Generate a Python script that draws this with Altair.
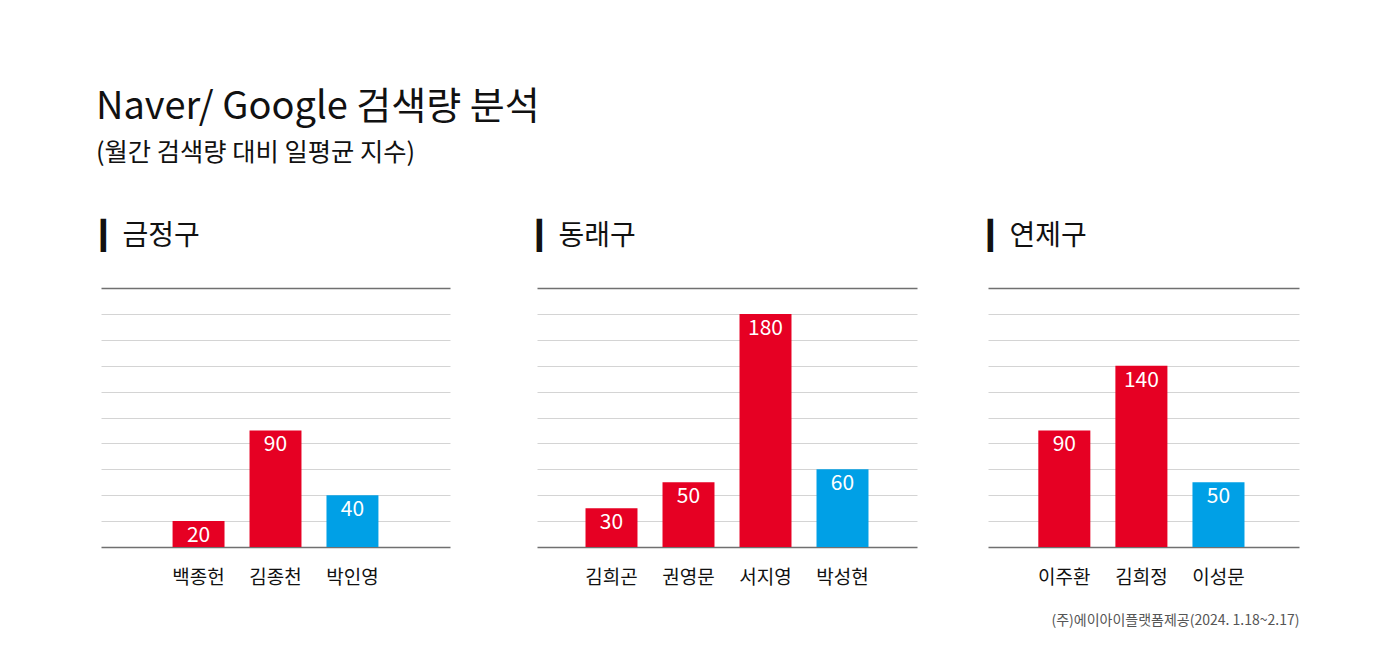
import altair as alt
import pandas as pd

FONT = "Noto Sans CJK KR"

# data
districts = ["금정구", "동래구", "연제구"]
candidates = [
    ["백종헌", "김종천", "박인영"],
    ["김희곤", "권영문", "서지영", "박성현"],
    ["이주환", "김희정", "이성문"],
]
values = [
    [20, 90, 40],
    [30, 50, 180, 60],
    [90, 140, 50],
]
parties = [
    ["국민의힘", "국민의힘", "더불어민주당"],
    ["국민의힘", "국민의힘", "국민의힘", "더불어민주당"],
    ["국민의힘", "국민의힘", "더불어민주당"],
]
party_names = ["국민의힘", "더불어민주당"]
party_colors = ["#e60023", "#00a0e6"]
grid_values = list(range(0, 201, 20))

title_text = "Naver/ Google 검색량 분석"
subtitle_text = "(월간 검색량 대비 일평균 지수)"
source_text = "(주)에이아이플랫폼제공(2024. 1.18~2.17)"

# layout per panel
panel_widths = [349, 380, 311]
outer_pad = [0.93, 0.63, 0.68]
band_align = [0.5, 0.5, 0.48]


def panel(i):
    df = pd.DataFrame({
        "name": candidates[i],
        "value": values[i],
        "party": parties[i],
    })
    x_axis = dict(
        labelAngle=0, labelFontSize=19, labelColor="#111", labelFont=FONT,
        labelPadding=21, ticks=False, domain=False, grid=False,
    )
    if i == 2:
        x_axis.update(
            title=source_text, titleFont=FONT, titleFontSize=14,
            titleFontWeight="normal", titleColor="#555", titleAnchor="end",
            titleAlign="right", titlePadding=26,
        )
    else:
        x_axis.update(title=None)

    base = alt.Chart(df).encode(
        x=alt.X("name:N", sort=candidates[i],
                scale=alt.Scale(paddingInner=0.325, paddingOuter=outer_pad[i],
                                align=band_align[i]),
                axis=alt.Axis(**x_axis)),
        y=alt.Y("value:Q",
                scale=alt.Scale(domain=[0, 200], nice=False),
                axis=alt.Axis(values=grid_values, labels=False, ticks=False,
                              domain=False, title=None,
                              gridColor=alt.condition(
                                  "datum.value == 0 || datum.value == 200",
                                  alt.value("#707070"), alt.value("#d4d4d4")),
                              gridWidth=alt.condition(
                                  "datum.value == 0 || datum.value == 200",
                                  alt.value(1.5), alt.value(1)))),
    )
    bars = base.mark_bar().encode(
        color=alt.Color("party:N",
                        scale=alt.Scale(domain=party_names, range=party_colors),
                        legend=None)
    )
    labels = base.mark_text(
        font=FONT, fontSize=21, color="white", baseline="middle", dy=15
    ).encode(text="value:Q")

    return (bars + labels).properties(
        width=panel_widths[i],
        height=259,
        title=alt.TitleParams(
            text="▎" + districts[i], anchor="start",
            font="DejaVu Sans, " + FONT, fontSize=28,
            fontWeight="normal", color="#111", offset=37,
        ),
    )


# gaps between panels are not equal in the original
right_pair = alt.hconcat(panel(1), panel(2), spacing=71)
chart = alt.hconcat(panel(0), right_pair, spacing=87).properties(
    title=alt.TitleParams(
        text=title_text, subtitle=subtitle_text, anchor="start",
        font=FONT, fontSize=38, fontWeight="normal", color="#111", dx=-5,
        subtitleFont=FONT, subtitleFontSize=25.3, subtitleFontWeight="normal",
        subtitleColor="#111", subtitlePadding=14, offset=57,
    ),
    background="white",
    padding={"left": 88, "top": 80, "right": 80, "bottom": 20},
).configure_view(stroke=None)

chart.save("out.html", embed_options={"renderer": "svg", "actions": False})
